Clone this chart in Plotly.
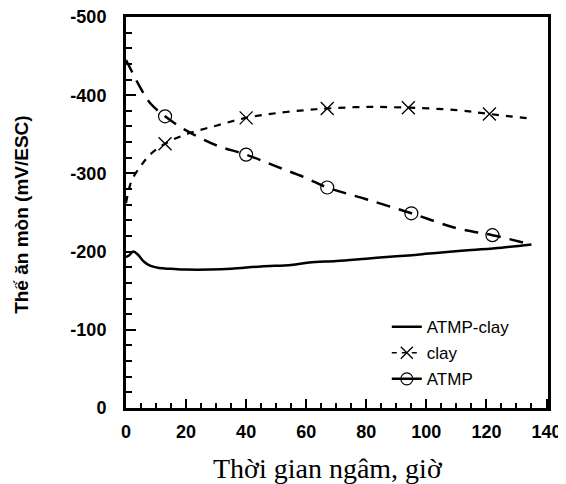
import plotly.graph_objects as go

# ATMP-clay (solid)
atmp_clay_x = [0, 1, 2.4, 4, 6, 8, 11, 15, 20, 28, 35, 45, 55, 61, 70, 80, 90, 97, 105, 115, 125, 135]
atmp_clay_y = [-193, -195, -200, -196, -187, -182, -179, -178, -177, -177, -178, -181, -183, -186, -188, -191, -194, -196, -199, -202, -205, -209]

# clay (dashed, x markers)
clay_x = [0, 1, 2, 5, 8, 13, 20, 30, 40, 50, 60, 67, 80, 94, 110, 121, 135]
clay_y = [-262, -280, -292, -310, -324, -338, -350, -361, -371, -377, -381, -383, -385, -384, -381, -376, -370]
clay_mx = [13, 40, 67, 94, 121]
clay_my = [-338, -371, -383, -384, -376]

# ATMP (long dash, circle markers)
atmp_x = [0, 2, 5, 8, 13, 20, 30, 40, 50, 60, 67, 80, 95, 110, 122, 135]
atmp_y = [-445, -430, -408, -390, -373, -355, -336, -324, -309, -294, -282, -267, -249, -230, -221, -209]
atmp_mx = [13, 40, 67, 95, 122]
atmp_my = [-373, -324, -282, -249, -221]

x_ticks = [0, 20, 40, 60, 80, 100, 120, 140]
y_ticks = [0, -100, -200, -300, -400, -500]

x_title = "Thời gian ngâm, giờ"
y_title = "Thế ăn mòn (mV/ESC)"

fig = go.Figure()

# curves
fig.add_trace(go.Scatter(x=atmp_clay_x, y=atmp_clay_y, mode="lines", showlegend=False,
                         line=dict(color="black", width=2.5, shape="spline")))
fig.add_trace(go.Scatter(x=clay_x, y=clay_y, mode="lines", showlegend=False,
                         line=dict(color="black", width=2.2, dash="7px,7px", shape="spline")))
fig.add_trace(go.Scatter(x=atmp_x, y=atmp_y, mode="lines", showlegend=False,
                         line=dict(color="black", width=2.5, dash="14px,9px", shape="spline")))
# markers
fig.add_trace(go.Scatter(x=clay_mx, y=clay_my, mode="markers", showlegend=False,
                         marker=dict(symbol="x-thin-open", size=13, color="black",
                                     line=dict(color="black", width=1.3))))
fig.add_trace(go.Scatter(x=atmp_mx, y=atmp_my, mode="markers", showlegend=False,
                         marker=dict(symbol="circle-open", size=13, color="black",
                                     line=dict(color="black", width=1.2))))

# legend entries
fig.add_trace(go.Scatter(x=[None], y=[None], mode="lines", name="ATMP-clay", legendgroup="a",
                         line=dict(color="black", width=2.5)))
fig.add_trace(go.Scatter(x=[None], y=[None], mode="lines+markers", name="clay", legendgroup="b",
                         line=dict(color="black", width=1.5, dash="5px,5px"),
                         marker=dict(symbol="x-thin-open", size=12, color="black",
                                     line=dict(color="black", width=1.3))))
fig.add_trace(go.Scatter(x=[None], y=[None], mode="lines+markers", name="ATMP", legendgroup="c",
                         line=dict(color="black", width=2.5),
                         marker=dict(symbol="circle-open", size=12, color="black",
                                     line=dict(color="black", width=1.2))))

tickfont = dict(family="Liberation Sans, Arial, sans-serif", size=18, color="black", weight="bold")

fig.update_layout(
    width=558, height=476,
    margin=dict(l=118, r=18, t=9, b=76),
    paper_bgcolor="white", plot_bgcolor="white",
    showlegend=True,
    legend=dict(x=0.618, y=0.253, xanchor="left", yanchor="top",
                bgcolor="rgba(0,0,0,0)",
                font=dict(family="Liberation Sans, Arial, sans-serif", size=17, color="black"),
                tracegroupgap=1),
    xaxis=dict(range=[0, 140.5], tickmode="array", tickvals=x_ticks, ticktext=[str(v) for v in x_ticks],
               showgrid=False, zeroline=False, automargin=False, ticklabeloverflow="allow",
               showline=True, linecolor="black", linewidth=3, mirror=True,
               ticks="inside", ticklen=9, tickwidth=1.5, tickcolor="black",
               minor=dict(ticks="inside", tickmode="linear", tick0=0, dtick=5, ticklen=5,
                          tickwidth=1.5, tickcolor="black", showgrid=False),
               tickfont=tickfont, ticklabelstandoff=5),
    yaxis=dict(range=[0, -500], tickmode="array", tickvals=y_ticks, ticktext=[str(v) for v in y_ticks],
               showgrid=False, zeroline=False, automargin=False, ticklabeloverflow="allow",
               showline=True, linecolor="black", linewidth=3, mirror=True,
               ticks="inside", ticklen=10, tickwidth=1.5, tickcolor="black",
               minor=dict(ticks="inside", tickmode="linear", tick0=0, dtick=20, ticklen=6,
                          tickwidth=1.5, tickcolor="black", showgrid=False),
               tickfont=tickfont, ticklabelstandoff=13),
    annotations=[
        dict(text=x_title, xref="paper", yref="paper", x=0.479, y=0, xanchor="center", yanchor="middle",
             yshift=-60, showarrow=False,
             font=dict(family="Liberation Serif, Times New Roman, serif", size=28, color="black")),
        dict(text=y_title, xref="paper", yref="paper", x=0, y=0.494, xanchor="center", yanchor="middle",
             xshift=-104, textangle=-90, showarrow=False,
             font=dict(family="Liberation Sans, Arial, sans-serif", size=19, color="black", weight="bold")),
    ],
)

fig.write_html("out.html")
